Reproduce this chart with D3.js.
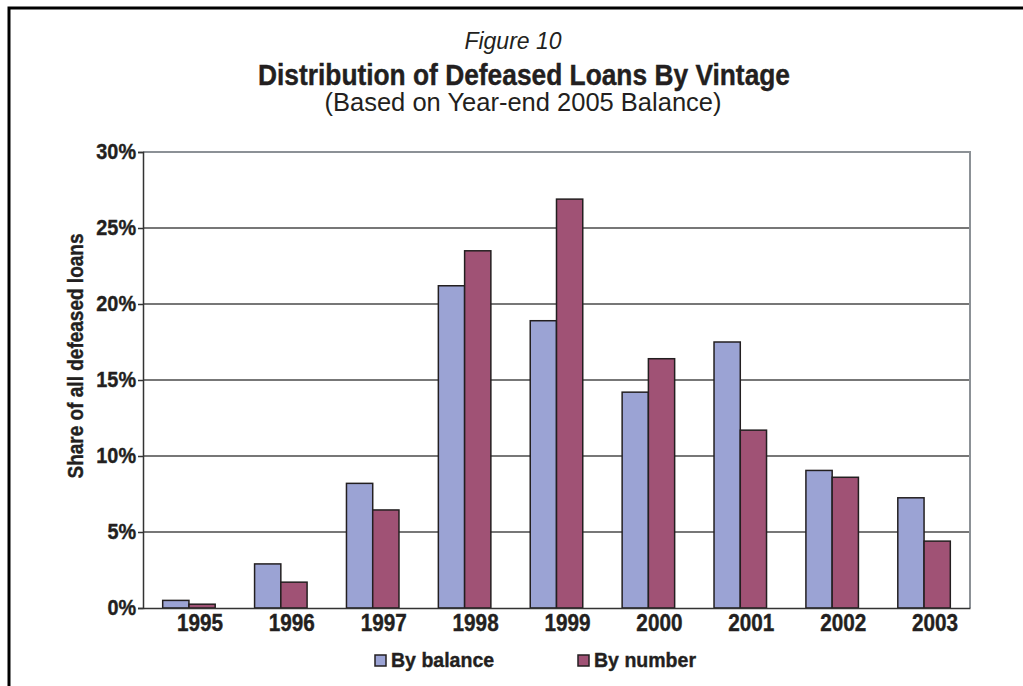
<!DOCTYPE html>
<html>
<head>
<meta charset="utf-8">
<script src="https://cdn.jsdelivr.net/npm/d3@7"></script>
<style>
  body { margin: 0; background: #fff; }
  svg { display: block; }
  .narrow { font-family: "Liberation Sans", Arial, sans-serif; font-weight: bold; fill: #231f20; stroke: #231f20; stroke-width: 0.4px; }
  .plain { font-family: "Liberation Sans", Arial, sans-serif; fill: #231f20; }
</style>
</head>
<body>
<svg id="chart" width="1023" height="686"></svg>
<script>
const years = ["1995", "1996", "1997", "1998", "1999", "2000", "2001", "2002", "2003"],
    byBalance = [0.5, 2.9, 8.2, 21.2, 18.9, 14.2, 17.5, 9.05, 7.25],
    byNumber = [0.25, 1.7, 6.45, 23.5, 26.9, 16.4, 11.7, 8.6, 4.4],
    yTicks = [0, 5, 10, 15, 20, 25, 30],
    seriesNames = ["By balance", "By number"],
    balanceColor = "#9ba3d4",
    numberColor = "#a05275",
    margin = {top: 152, left: 143, right: 53, bottom: 78};

var svg = d3.select("#chart"),
    width = 1023 - margin.left - margin.right,
    height = 686 - margin.top - margin.bottom;

// squeeze bold text to look like a condensed face
function squeeze(sel, factor) {
    sel.each(function() {
        var w = this.getComputedTextLength();
        d3.select(this).attr("textLength", w * factor).attr("lengthAdjust", "spacingAndGlyphs");
    });
}

// outer frame, runs off the right and bottom edges
svg.append("rect")
    .attr("x", 9).attr("y", 8)
    .attr("width", 1100).attr("height", 800)
    .attr("fill", "none")
    .attr("stroke", "#000")
    .attr("stroke-width", 3);

// titles
svg.append("text").attr("class", "plain")
    .attr("x", 513).attr("y", 49)
    .attr("text-anchor", "middle")
    .style("font-style", "italic").style("font-size", "23px")
    .text("Figure 10");
svg.append("text").attr("class", "narrow")
    .attr("x", 524).attr("y", 85)
    .attr("text-anchor", "middle")
    .style("font-size", "30px")
    .attr("textLength", 532).attr("lengthAdjust", "spacingAndGlyphs")
    .text("Distribution of Defeased Loans By Vintage");
svg.append("text").attr("class", "plain")
    .attr("x", 523).attr("y", 111)
    .attr("text-anchor", "middle")
    .style("font-size", "25px")
    .attr("textLength", 397).attr("lengthAdjust", "spacingAndGlyphs")
    .text("(Based on Year-end 2005 Balance)");

var x0 = d3.scaleBand().domain(years).range([0, width]),
    barW = x0.bandwidth() / 3.5,
    x1 = d3.scaleBand().domain(seriesNames).range([0, barW * 2]),
    y = d3.scaleLinear().domain([0, 30]).range([height, 0]);

var g = svg.append("g")
    .attr("transform", "translate(" + margin.left + "," + margin.top + ")");

// gridlines
g.selectAll(".grid")
    .data(yTicks.slice(1, -1))
    .enter().append("line")
    .attr("x1", 0).attr("x2", width)
    .attr("y1", function(d) { return y(d); })
    .attr("y2", function(d) { return y(d); })
    .attr("stroke", "#4a4a4a")
    .attr("stroke-width", 1.5);

// top and right border of the plot
g.append("path")
    .attr("d", "M0," + y(30) + "H" + width + "V" + height)
    .attr("fill", "none")
    .attr("stroke", "#8c9196")
    .attr("stroke-width", 2);

var groups = g.selectAll(".year")
    .data(years)
    .enter().append("g")
    .attr("transform", function(d) {
        return "translate(" + (x0(d) + barW * 0.75) + ",0)";
    });

groups.selectAll("rect")
    .data(function(d, i) {
        return [{s: seriesNames[0], v: byBalance[i], c: balanceColor},
                {s: seriesNames[1], v: byNumber[i], c: numberColor}];
    })
    .enter().append("rect")
    .attr("x", function(d) { return x1(d.s); })
    .attr("y", function(d) { return y(d.v); })
    .attr("width", x1.bandwidth())
    .attr("height", function(d) { return height - y(d.v); })
    .attr("fill", function(d) { return d.c; })
    .attr("stroke", "#231f20")
    .attr("stroke-width", 1.5);

// y axis
var yAxis = g.append("g")
    .call(d3.axisLeft(y).tickValues(yTicks).tickSize(5).tickPadding(2)
        .tickFormat(function(d) { return d + "%"; }));
yAxis.attr("font-family", null).attr("font-size", null);
yAxis.select(".domain").attr("stroke", "#333").attr("stroke-width", 1.5);
yAxis.selectAll(".tick line").attr("stroke", "#333").attr("stroke-width", 1.5);
yAxis.selectAll("text").attr("class", "narrow")
    .style("font-size", "22px").attr("dy", "0.3em")
    .call(squeeze, 0.9);

// x axis (labels sit a little right of the bar groups, as in the original)
var xAxis = g.append("g")
    .attr("transform", "translate(0," + height + ")")
    .call(d3.axisBottom(x0).tickSize(0).tickPadding(7));
xAxis.attr("font-family", null).attr("font-size", null);
xAxis.select(".domain").attr("stroke", "#333").attr("stroke-width", 1.5);
xAxis.selectAll("text").attr("class", "narrow")
    .style("font-size", "23px").attr("dy", "0.71em").attr("dx", 11)
    .call(squeeze, 0.9);

// y axis title
svg.append("text").attr("class", "narrow")
    .attr("transform", "translate(83,356) rotate(-90)")
    .attr("text-anchor", "middle")
    .style("font-size", "22px")
    .attr("textLength", 245).attr("lengthAdjust", "spacingAndGlyphs")
    .text("Share of all defeased loans");

// legend
var legendX = [375, 578],
    legendColors = [balanceColor, numberColor];
var legend = svg.selectAll(".legend")
    .data(seriesNames)
    .enter().append("g")
    .attr("transform", function(d, i) { return "translate(" + legendX[i] + ",655)"; });
legend.append("rect")
    .attr("width", 11).attr("height", 11)
    .attr("fill", function(d, i) { return legendColors[i]; })
    .attr("stroke", "#231f20").attr("stroke-width", 1.5);
legend.append("text").attr("class", "narrow")
    .attr("x", 16).attr("y", 12)
    .style("font-size", "21px")
    .text(function(d) { return d; });
legend.selectAll("text").call(squeeze, 0.93);
</script>
</body>
</html>
